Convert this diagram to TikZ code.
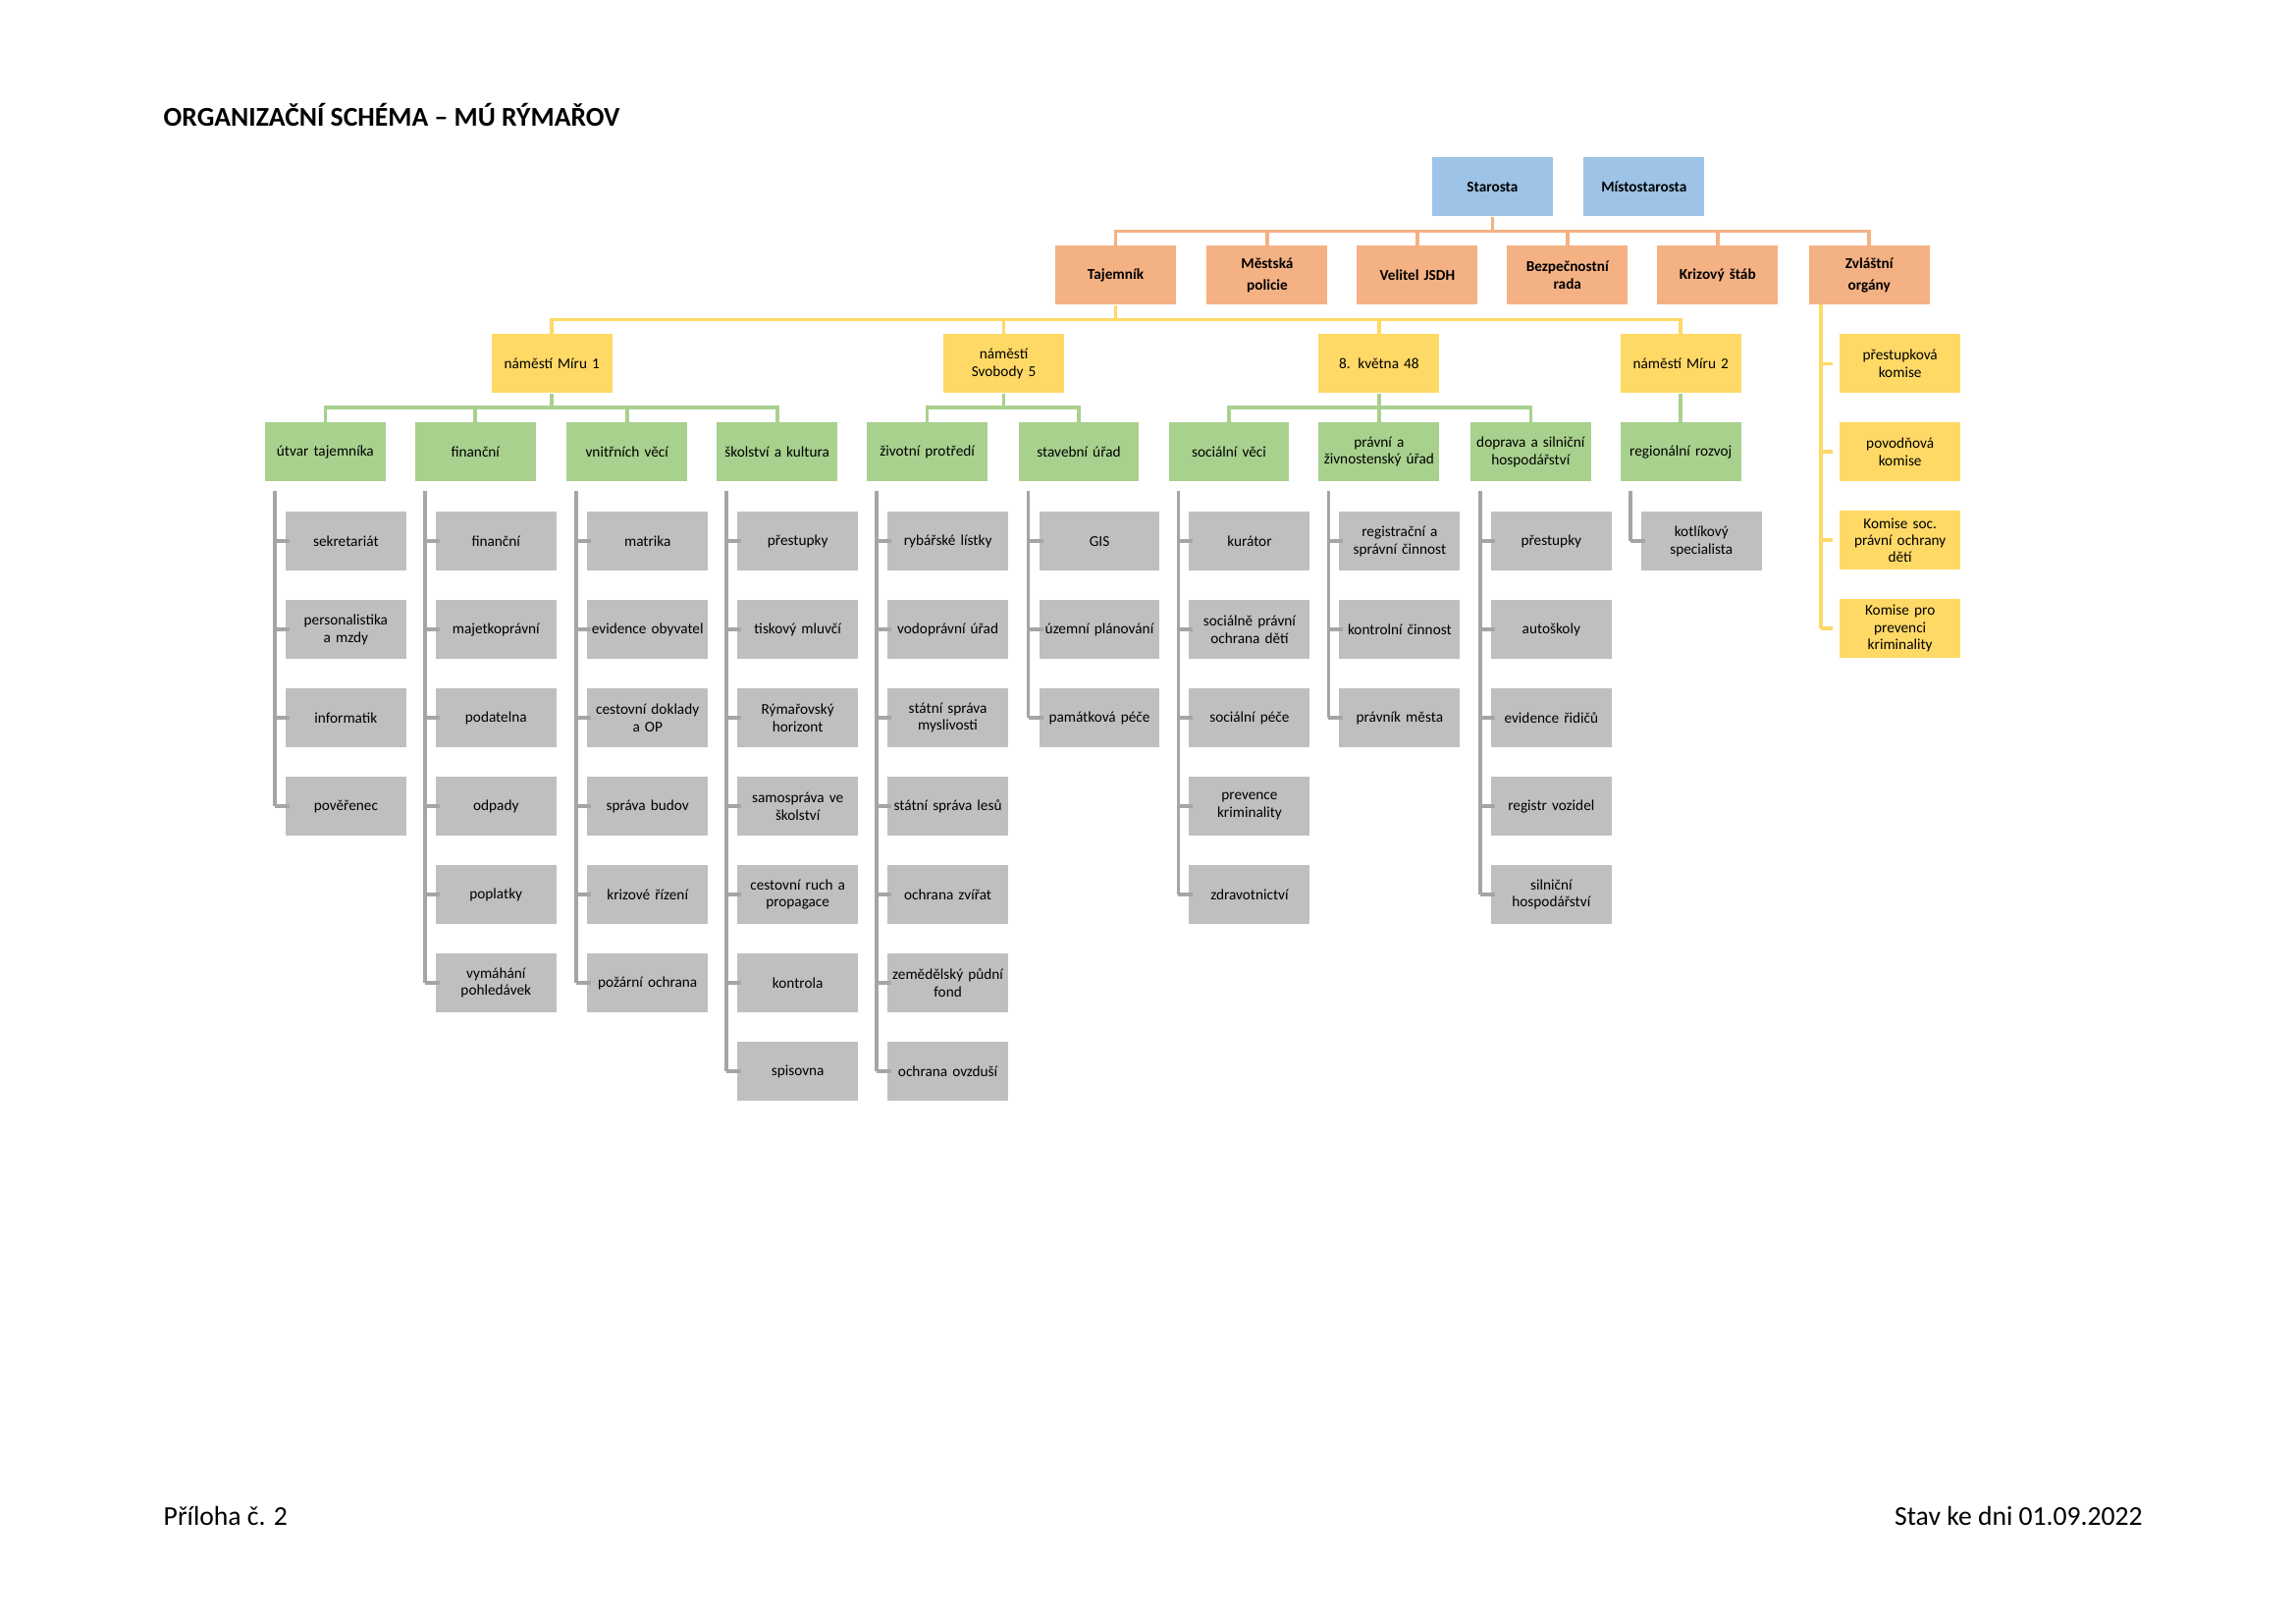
\documentclass[tikz,border=0pt]{standalone}
\usepackage{fontspec}
\setmainfont{Carlito}
\definecolor{cblue}{HTML}{9DC3E6}
\definecolor{corange}{HTML}{F4B183}
\definecolor{cyellow}{HTML}{FFD966}
\definecolor{cgreen}{HTML}{A9D18E}
\definecolor{cgray}{HTML}{BFBFBF}
\definecolor{lgray}{HTML}{A5A5A5}
\tikzset{
 box/.style={minimum width=1.64cm,minimum height=0.8cm,inner sep=0pt,align=center,text width=1.64cm,font=\fontsize{5.8}{6.6}\selectfont},
 bbox/.style={box,fill=cblue,font=\fontsize{5.8}{6.6}\selectfont\bfseries},
 obox/.style={box,fill=corange,font=\fontsize{5.8}{6.6}\selectfont\bfseries},
 ybox/.style={box,fill=cyellow},
 gbox/.style={box,fill=cgreen},
 xbox/.style={box,fill=cgray},
 oline/.style={draw=corange,line width=1.4pt},
 yline/.style={draw=cyellow,line width=1.4pt},
 gline/.style={draw=cgreen,line width=1.4pt},
 xline/.style={draw=lgray,line width=1.4pt},
}
\begin{document}
\begin{tikzpicture}[x=0.02cm,y=-0.02cm]
\useasboundingbox (0,0) rectangle (1560,1103);
\node[anchor=west,font=\fontsize{10.5}{12}\selectfont\bfseries] (title) at (105,78) {ORGANIZAČNÍ SCHÉMA – MÚ RÝMAŘOV};
\node[anchor=west,font=\fontsize{10.5}{12}\selectfont] (foot1) at (105,1030) {Příloha č. 2};
\node[anchor=east,font=\fontsize{10.5}{12}\selectfont] (foot2) at (1462,1030) {Stav ke dni 01.09.2022};
% top
\node[bbox] (star) at (1014,127) {Starosta};
\node[bbox] (mist) at (1117,127) {Místostarosta};
\node[obox] (taj) at (758,187) {Tajemník};
\node[obox] (mp) at (861,187) {Městská\\[2pt]policie};
\node[obox] (vel) at (963,187) {Velitel JSDH};
\node[obox] (bez) at (1065,187) {Bezpečnostní\\rada};
\node[obox] (kri) at (1167,187) {Krizový štáb};
\node[obox] (zvl) at (1270,187) {Zvláštní\\[2pt]orgány};
\coordinate (ob) at (1014,157);
\draw[oline] (star.south) -- (ob);
\draw[oline] (taj.north) |- (ob) -| (zvl.north);
\foreach \n in {mp,vel,bez,kri} \draw[oline] (\n.north) -- (\n.north|-ob);
% yellow
\node[ybox] (m1) at (375,247) {náměstí Míru 1};
\node[ybox] (sv) at (682,247) {náměstí\\Svobody 5};
\node[ybox] (kv) at (937,247) {8. května 48};
\node[ybox] (m2) at (1142,247) {náměstí Míru 2};
\coordinate (yb) at (758,217);
\draw[yline] (taj.south) -- (yb);
\draw[yline] (m1.north) |- (yb) -| (m2.north);
\foreach \n in {sv,kv} \draw[yline] (\n.north) -- (\n.north|-yb);
% zvlastni organy
\node[ybox] (z1) at (1291,247) {přestupková\\komise};
\node[ybox] (z2) at (1291,307) {povodňová\\komise};
\node[ybox] (z3) at (1291,367) {Komise soc.\\právní ochrany\\dětí};
\node[ybox] (z4) at (1291,427) {Komise pro\\prevenci\\kriminality};
\coordinate (zt) at (1237,207);
\coordinate (zb) at (1237,427);
\draw[yline] (zt) -- (zb);
\foreach \n in {z1,z2,z3,z4} \draw[yline] (\n.west-|zt) -- ++(8,0);
% green
\foreach \n/\x/\t in {g1/221/útvar tajemníka,g2/323/finanční,g3/426/vnitřních věcí,g4/528/školství a kultura,g5/630/životní protředí,g6/733/stavební úřad,g7/835/sociální věci,g8/937/právní a\\živnostenský úřad,g9/1040/doprava a silniční\\hospodářství,g10/1142/regionální rozvoj}
  \node[gbox] (\n) at (\x,307) {\t};
\coordinate (gm1) at (375,277);
\draw[gline] (m1.south) -- (gm1);
\draw[gline] (g1.north) |- (gm1) -| (g4.north);
\foreach \n in {g2,g3} \draw[gline] (\n.north) -- (\n.north|-gm1);
\coordinate (gsv) at (682,277);
\draw[gline] (sv.south) -- (gsv);
\draw[gline] (g5.north) |- (gsv) -| (g6.north);
\coordinate (gkv) at (937,277);
\draw[gline] (kv.south) -- (gkv);
\draw[gline] (g7.north) |- (gkv) -| (g9.north);
\draw[gline] (g8.north) -- (g8.north|-gkv);
\draw[gline] (m2.south) -- (g10.north);
% gray children
\foreach \g/\items in {
 g1/{sekretariát,personalistika\\a mzdy,informatik,pověřenec},
 g2/{finanční,majetkoprávní,podatelna,odpady,poplatky,vymáhání\\pohledávek},
 g3/{matrika,evidence obyvatel,cestovní doklady\\a OP,správa budov,krizové řízení,požární ochrana},
 g4/{přestupky,tiskový mluvčí,Rýmařovský\\horizont,samospráva ve\\školství,cestovní ruch a\\propagace,kontrola,spisovna},
 g5/{rybářské lístky,vodoprávní úřad,státní správa\\myslivosti,státní správa lesů,ochrana zvířat,zemědělský půdní\\fond,ochrana ovzduší},
 g6/{GIS,územní plánování,památková péče},
 g7/{kurátor,sociálně právní\\ochrana dětí,sociální péče,prevence\\kriminality,zdravotnictví},
 g8/{registrační a\\správní činnost,kontrolní činnost,právník města},
 g9/{přestupky,autoškoly,evidence řidičů,registr vozidel,silniční\\hospodářství},
 g10/{kotlíkový\\specialista}} {
  \coordinate (\g top) at ([xshift=0.14cm,yshift=-0.12cm]\g.south west);
  \foreach \it [count=\i] in \items {
    \node[xbox,anchor=north west] (\g c\i) at ([xshift=0.28cm,yshift=-0.4cm-1.2cm*(\i-1)]\g.south west) {\it};
    \draw[xline] (\g c\i.west-|\g top) -- ++(10,0);
    \coordinate (\g bot) at (\g c\i.west-|\g top);
  }
  \draw[xline] (\g top) -- (\g bot);
}
\end{tikzpicture}
\end{document}
